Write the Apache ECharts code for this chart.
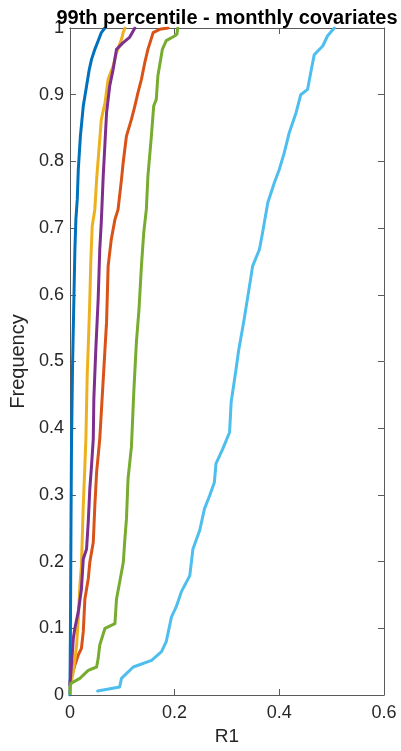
<!DOCTYPE html>
<html>
<head>
<meta charset="utf-8">
<script src="https://cdn.jsdelivr.net/npm/echarts@6/dist/echarts.min.js"></script>
<style>
  html, body { margin: 0; padding: 0; background: #fff; }
  #chart { width: 401px; height: 751px; }
</style>
</head>
<body>
<div id="chart"></div>
<script>
// Empirical CDFs of R1 for six model variants, pairs of [R1, cumulative frequency]
const blueCdf = [[0,0],[0.001,0.1],[0.002,0.25],[0.003,0.374],[0.005,0.494],[0.0076,0.594],[0.0095,0.668],[0.0114,0.713],[0.014,0.743],[0.016,0.788],[0.020,0.838],[0.0255,0.883],[0.0318,0.913],[0.037,0.938],[0.0413,0.953],[0.0476,0.968],[0.054,0.981],[0.060,0.993],[0.0667,1.0]];
const orangeCdf = [[0,0.017],[0.0095,0.045],[0.016,0.06],[0.022,0.07],[0.0255,0.095],[0.0286,0.144],[0.035,0.174],[0.038,0.199],[0.0446,0.229],[0.0476,0.284],[0.051,0.334],[0.054,0.359],[0.057,0.384],[0.060,0.424],[0.067,0.519],[0.070,0.559],[0.073,0.643],[0.079,0.683],[0.086,0.713],[0.092,0.728],[0.0985,0.773],[0.1017,0.798],[0.108,0.838],[0.1175,0.863],[0.124,0.883],[0.130,0.903],[0.1366,0.923],[0.143,0.948],[0.149,0.968],[0.159,0.993],[0.1714,0.998],[0.1875,1.0]];
const yellowCdf = [[0,0.01],[0.0065,0.035],[0.0128,0.075],[0.016,0.115],[0.019,0.164],[0.022,0.194],[0.0255,0.284],[0.0286,0.344],[0.0305,0.384],[0.033,0.479],[0.036,0.544],[0.038,0.594],[0.040,0.653],[0.0426,0.703],[0.0476,0.728],[0.051,0.773],[0.056,0.823],[0.060,0.863],[0.067,0.888],[0.073,0.923],[0.0826,0.943],[0.089,0.963],[0.0985,0.983],[0.1017,0.993],[0.105,1.0]];
const purpleCdf = [[0,0.015],[0.003,0.045],[0.0065,0.085],[0.0095,0.1],[0.016,0.125],[0.022,0.159],[0.0255,0.204],[0.0318,0.219],[0.035,0.259],[0.038,0.309],[0.0413,0.344],[0.0446,0.384],[0.0457,0.444],[0.0495,0.519],[0.054,0.594],[0.057,0.668],[0.060,0.710],[0.0636,0.778],[0.067,0.828],[0.070,0.873],[0.076,0.913],[0.0826,0.938],[0.089,0.968],[0.1017,0.978],[0.114,0.986],[0.119,0.993],[0.124,1.0]];
const greenCdf = [[0,0.002],[0.001,0.017],[0.019,0.025],[0.035,0.037],[0.051,0.042],[0.054,0.055],[0.057,0.075],[0.067,0.1],[0.086,0.107],[0.089,0.144],[0.095,0.169],[0.102,0.199],[0.105,0.234],[0.108,0.264],[0.111,0.324],[0.1175,0.372],[0.122,0.454],[0.127,0.529],[0.132,0.579],[0.1366,0.643],[0.141,0.693],[0.146,0.728],[0.149,0.778],[0.1556,0.838],[0.160,0.883],[0.165,0.893],[0.168,0.928],[0.1766,0.968],[0.184,0.981],[0.200,0.988],[0.2045,0.991],[0.206,1.0]];
const lightBlueCdf = [[0.053,0.006],[0.095,0.012],[0.0985,0.025],[0.121,0.042],[0.156,0.052],[0.175,0.065],[0.184,0.08],[0.194,0.117],[0.203,0.132],[0.213,0.155],[0.229,0.179],[0.235,0.219],[0.248,0.247],[0.257,0.279],[0.267,0.299],[0.276,0.319],[0.279,0.347],[0.292,0.369],[0.305,0.394],[0.308,0.439],[0.3175,0.489],[0.322,0.515],[0.333,0.564],[0.343,0.613],[0.349,0.643],[0.362,0.668],[0.368,0.693],[0.378,0.738],[0.3905,0.768],[0.400,0.788],[0.4095,0.813],[0.419,0.843],[0.432,0.873],[0.441,0.900],[0.454,0.908],[0.460,0.933],[0.4667,0.960],[0.483,0.973],[0.492,0.988],[0.505,1.0]];

const seriesNames = ['blue', 'orange', 'yellow', 'purple', 'green', 'lightblue'];
const seriesData = [blueCdf, orangeCdf, yellowCdf, purpleCdf, greenCdf, lightBlueCdf];
const seriesColors = ['#0072BD', '#D95319', '#EDB120', '#7E2F8E', '#77AC30', '#4DBEEE'];

const xTicks = [0, 0.2, 0.4, 0.6];
const yTicks = [0, 0.1, 0.2, 0.3, 0.4, 0.5, 0.6, 0.7, 0.8, 0.9, 1];

const titleText = '99th percentile - monthly covariates';
const xLabel = 'R1';
const yLabel = 'Frequency';

const FONT = 'Liberation Sans, Arial, sans-serif';
const AXIS_COLOR = '#5a5a5a';
const TEXT_COLOR = '#262626';

const fmt = v => String(+(+v).toFixed(2));

const chart = echarts.init(document.getElementById('chart'), null, { renderer: 'canvas' });

// One side of the boxed axes; the top and right copies only carry ticks
function boxAxis(kind, pos, ticks, showLabels) {
  return {
    type: 'value',
    position: pos,
    min: ticks[0],
    max: ticks[ticks.length - 1],
    interval: ticks[1] - ticks[0],
    axisLine: { show: true, onZero: false, lineStyle: { color: AXIS_COLOR, width: 1 } },
    axisTick: { show: true, inside: true, length: 6, lineStyle: { color: AXIS_COLOR, width: 1 } },
    splitLine: { show: false },
    axisLabel: {
      show: showLabels,
      color: TEXT_COLOR,
      fontFamily: FONT,
      fontSize: 18,
      margin: kind === 'x' ? 9 : 6,
      formatter: fmt
    }
  };
}

const xMain = boxAxis('x', 'bottom', xTicks, true);
xMain.name = xLabel;
xMain.nameLocation = 'middle';
xMain.nameGap = 32;
xMain.nameTextStyle = { color: TEXT_COLOR, fontFamily: FONT, fontSize: 19 };

const yMain = boxAxis('y', 'left', yTicks, true);
yMain.name = yLabel;
yMain.nameLocation = 'middle';
yMain.nameGap = 33;
yMain.nameTextStyle = { color: TEXT_COLOR, fontFamily: FONT, fontSize: 20 };

chart.setOption({
  animation: false,
  backgroundColor: '#ffffff',
  title: {
    text: titleText,
    left: 222,
    textAlign: 'center',
    top: 3,
    textStyle: { color: '#000', fontFamily: FONT, fontSize: 20, fontWeight: 'bold' }
  },
  grid: { left: 68, right: 17, top: 28, bottom: 55, containLabel: false },
  xAxis: [xMain, boxAxis('x', 'top', xTicks, false)],
  yAxis: [yMain, boxAxis('y', 'right', yTicks, false)],
  series: seriesData.map((d, i) => ({
    name: seriesNames[i],
    type: 'line',
    xAxisIndex: 0,
    yAxisIndex: 0,
    data: d,
    showSymbol: false,
    symbol: 'none',
    clip: true,
    lineStyle: { color: seriesColors[i], width: 3, join: 'round', cap: 'round' },
    z: 2 + i
  }))
});
</script>
</body>
</html>
